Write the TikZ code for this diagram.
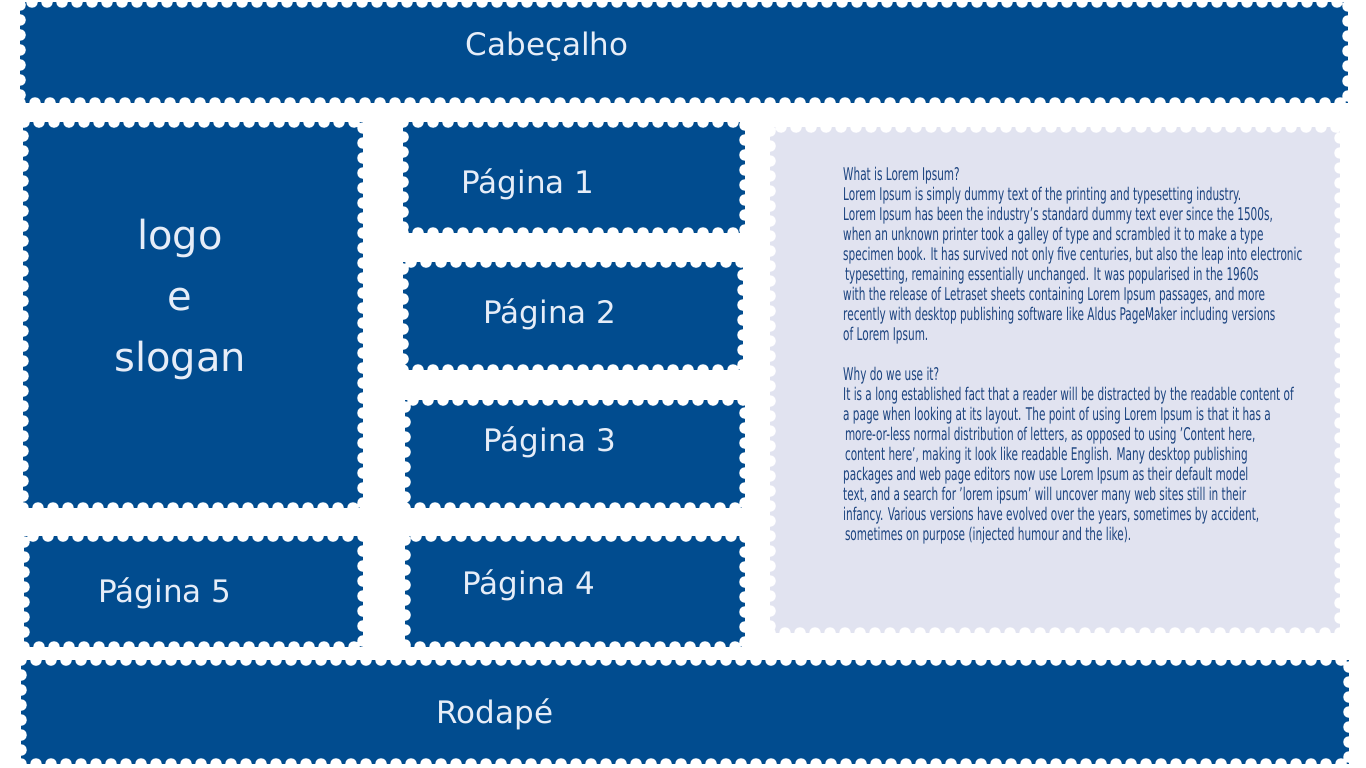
\documentclass[tikz,border=0pt]{standalone}
\usepackage{fontspec}
\usepackage{graphicx}
\setmainfont{DejaVu Sans}
\usetikzlibrary{positioning}

\definecolor{deepblue}{RGB}{1,76,143}
\definecolor{paleblue}{RGB}{230,237,248}
\definecolor{lavender}{RGB}{225,227,240}
\definecolor{loremink}{RGB}{28,68,128}

\begin{document}
\begin{tikzpicture}[x=1pt, y=-1pt,
        stamp/.style={rectangle, fill=deepblue, draw=white, line width=11.5pt,
                line cap=round, dash pattern=on 0pt off 15pt,
                inner sep=0pt, outer sep=0pt, anchor=north west},
        lbl/.style={text=paleblue, inner sep=0pt,
                font=\fontsize{31}{37}\selectfont}]
    \useasboundingbox (0,0) rectangle (1366,768);

    % blocks
    \node[stamp, minimum width=1328pt, minimum height=101pt] (head) at (20,2) {};
    \node[stamp, minimum width=340pt, minimum height=386pt] (logo) at (23,122) {};
    \node[stamp, minimum width=342pt, minimum height=111pt] (pag1) at (403,122) {};
    \node[stamp, minimum width=340pt, minimum height=108pt] (pag2) at (403,262) {};
    \node[stamp, minimum width=340pt, minimum height=108pt] (pag3) at (405,400) {};
    \node[stamp, minimum width=340pt, minimum height=111pt] (pag4) at (405,536) {};
    \node[stamp, minimum width=339pt, minimum height=111pt] (pag5) at (24,536) {};
    \node[stamp, fill=lavender, minimum width=570pt, minimum height=506pt] (body) at (770,127) {};
    \node[stamp, minimum width=1328pt, minimum height=104pt] (foot) at (21,660) {};

    % labels
    \node[lbl] (headtxt) at (547,47) {Cabeçalho};
    \node[lbl, align=center, font=\fontsize{40}{61}\selectfont] (logotxt) at (180,299) {logo\\e\\slogan};
    \node[lbl] (pag1txt) at (528,184) {Página 1};
    \node[lbl] (pag2txt) at (550,314) {Página 2};
    \node[lbl] (pag3txt) at (550,442) {Página 3};
    \node[lbl] (pag4txt) at (529,585) {Página 4};
    \node[lbl] (pag5txt) at (165,593) {Página 5};
    \node[lbl] (foottxt) at (495,714) {Rodapé};

    \node[anchor=north west, inner sep=0pt, text=loremink,
          font=\fontsize{17.5}{20}\selectfont] (lorem) at (843,166) {\scalebox{0.6}[1]{%
        \begin{tabular}{@{}l@{}}
        What is Lorem Ipsum?\\
        Lorem Ipsum is simply dummy text of the printing and typesetting industry.\\
        Lorem Ipsum has been the industry's standard dummy text ever since the 1500s,\\
        when an unknown printer took a galley of type and scrambled it to make a type\\
        specimen book. It has survived not only five centuries, but also the leap into electronic\\
        \hspace*{3pt}typesetting, remaining essentially unchanged. It was popularised in the 1960s\\
        with the release of Letraset sheets containing Lorem Ipsum passages, and more\\
        recently with desktop publishing software like Aldus PageMaker including versions\\
        of Lorem Ipsum.\\
        \mbox{}\\
        Why do we use it?\\
        It is a long established fact that a reader will be distracted by the readable content of\\
        a page when looking at its layout. The point of using Lorem Ipsum is that it has a\\
        \hspace*{3pt}more-or-less normal distribution of letters, as opposed to using 'Content here,\\
        \hspace*{3pt}content here', making it look like readable English. Many desktop publishing\\
        packages and web page editors now use Lorem Ipsum as their default model\\
        text, and a search for 'lorem ipsum' will uncover many web sites still in their\\
        infancy. Various versions have evolved over the years, sometimes by accident,\\
        \hspace*{3pt}sometimes on purpose (injected humour and the like).
        \end{tabular}}};
\end{tikzpicture}
\end{document}
